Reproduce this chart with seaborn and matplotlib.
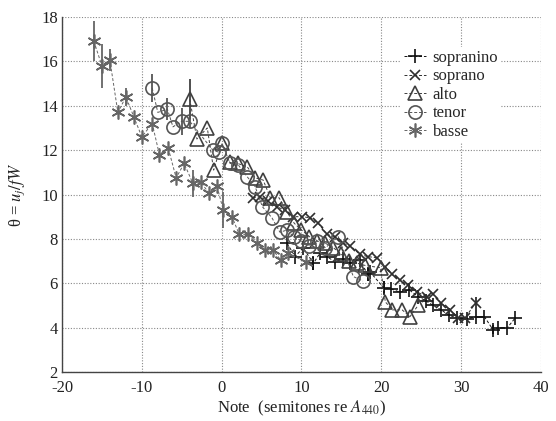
import matplotlib
matplotlib.use("Agg")
import matplotlib.pyplot as plt
import seaborn as sns
import pandas as pd

# values
sopranino_x = [8.2, 9.2, 10.2, 11.5, 12.3, 13.2, 14.2, 15.2, 16.1, 17.3, 18.3, 18.6, 20.3, 21.2,
               22.3, 23.5, 24.6, 25.6, 26.5, 27.5, 28.5, 29.5, 30.7, 31.9, 32.9, 34.0, 34.6, 35.8, 36.8]
sopranino_y = [7.8, 7.2, 7.6, 6.9, 7.35, 7.2, 6.96, 7.1, 6.9, 7.05, 6.4, 6.5, 5.8, 5.75,
               5.6, 5.7, 5.4, 5.2, 5.0, 4.8, 4.55, 4.45, 4.4, 4.5, 4.5, 3.9, 4.0, 4.0, 4.45]
sopranino_err = [0, 0, 0, 0.3, 0, 0, 0, 0, 0, 0, 0.3, 0, 0.3, 0,
                 0, 0, 0, 0, 0, 0, 0, 0, 0, 0, 0, 0.2, 0, 0, 0]

soprano_x = [3.9, 4.8, 5.8, 6.9, 7.9, 8.9, 10.1, 11.1, 12.1, 13.2, 14.2, 15.2, 16.1, 17.3,
             18.3, 19.5, 20.5, 21.3, 22.3, 23.4, 24.5, 25.7, 26.5, 27.5, 28.6, 29.6, 30.5, 31.8]
soprano_y = [9.85, 9.9, 9.7, 9.45, 9.3, 9.0, 9.0, 8.95, 8.7, 8.2, 8.1, 7.8, 7.7, 7.3,
             7.2, 7.15, 6.75, 6.4, 6.15, 5.9, 5.6, 5.4, 5.5, 5.1, 4.8, 4.45, 4.45, 5.1]
soprano_err = [0] * 27 + [0.3]

alto_x = [-4.0, -3.1, -1.8, -1.0, 0.0, 1.0, 2.0, 3.2, 4.2, 5.2, 6.1, 7.2, 8.2, 9.1, 10, 11,
          12, 13, 14, 15, 16, 17, 18, 19.9, 20.5, 21.4, 22.6, 23.6, 24.6]
alto_y = [14.3, 12.5, 13.0, 11.1, 12.3, 11.45, 11.4, 11.25, 10.75, 10.65, 9.85, 9.85, 9.2, 8.7,
          8.4, 8.1, 7.9, 7.8, 7.6, 7.3, 7.0, 6.9, 6.8, 6.7, 5.16, 4.8, 4.8, 4.5, 5.0]
alto_err = [0.9, 0, 0, 0, 0, 0, 0, 0, 0, 0, 0, 0, 0, 0, 0, 0,
            0, 0, 0, 0, 0, 0, 0, 0, 0, 0, 0, 0, 0]

tenor_x = [-8.7, -8.0, -6.8, -6.1, -5.0, -4.0, -1.1, -0.3, 0.05, 1.05, 2.05, 3.2, 4.2, 5.1, 6.3,
           7.3, 8.2, 9.0, 10.0, 11.0, 12.0, 13.0, 14.6, 16.5, 17.7]
tenor_y = [14.8, 13.7, 13.85, 13.05, 13.3, 13.3, 12.0, 11.9, 12.3, 11.4, 11.35, 10.8, 10.35, 9.45,
           8.95, 8.3, 8.4, 8.1, 7.9, 7.7, 7.9, 7.6, 8.1, 6.3, 6.1]
tenor_err = [0.65, 0, 0.5, 0, 0.6, 0.3, 0, 0, 0, 0, 0, 0, 0, 0,
             0, 0, 0, 0, 0, 0, 0, 0, 0, 0, 0]

basse_x = [-16, -15, -14, -13, -12, -11, -10, -8.7, -7.8, -6.7, -5.7, -4.7, -3.6, -2.6, -1.6,
           -0.6, 0.2, 1.3, 2.2, 3.3, 4.4, 5.4, 6.4, 7.4, 8.3, 10.6]
basse_y = [16.9, 15.8, 16.05, 13.7, 14.4, 13.5, 12.6, 13.2, 11.8, 12.1, 10.75, 11.4, 10.5, 10.55,
           10.07, 10.4, 9.3, 9.0, 8.2, 8.2, 7.8, 7.5, 7.5, 7.05, 7.35, 6.95]
basse_err = [0.9, 1.0, 0.5, 0, 0.4, 0, 0, 0, 0, 0, 0, 0, 0.6, 0, 0,
             0, 0.8, 0, 0, 0, 0, 0, 0, 0, 0, 0]

series = [
    ("sopranino", sopranino_x, sopranino_y, sopranino_err, "+", "#111111", 10),
    ("soprano", soprano_x, soprano_y, soprano_err, "x", "#2e2e2e", 6.5),
    ("alto", alto_x, alto_y, alto_err, "^", "#404040", 9.5),
    ("tenor", tenor_x, tenor_y, tenor_err, "o", "#555555", 9.5),
    ("basse", basse_x, basse_y, basse_err, (6, 2, 0), "#666666", 10),
]

sns.set_style("whitegrid")
plt.rcParams["font.family"] = ["Liberation Serif", "DejaVu Serif"]
plt.rcParams["mathtext.fontset"] = "stix"
plt.rcParams["axes.unicode_minus"] = False

fig = plt.figure(figsize=(5.56, 4.21), dpi=100)
ax = fig.add_axes([0.1115, 0.1164, 0.8615, 0.8432])

for name, xs, ys, errs, mk, col, ms in series:
    df = pd.DataFrame({"note": xs, "theta": ys})
    sns.lineplot(data=df, x="note", y="theta", ax=ax, sort=False, estimator=None,
                 color=col, marker=mk, markersize=ms, markerfacecolor="none",
                 markeredgecolor=col, markeredgewidth=1.2, linestyle=(0, (3, 2)),
                 linewidth=0.7, label=name)
    ax.errorbar(xs, ys, yerr=errs, fmt="none", ecolor=col, elinewidth=1.3, capsize=0)

ax.set_xlim(-20, 40)
ax.set_ylim(2, 18)
ax.set_xticks(range(-20, 41, 10))
ax.set_yticks(range(2, 19, 2))
ax.grid(True, color="#888888", linestyle=(0, (1, 1.5)), linewidth=0.8)
for s in ["top", "right"]:
    ax.spines[s].set_visible(False)
for s in ["left", "bottom"]:
    ax.spines[s].set_color("#444444")
    ax.spines[s].set_linewidth(1.0)
ax.tick_params(direction="in", length=3, labelsize=12, colors="#222222", pad=3)
ax.tick_params(axis="x", pad=6)

ax.set_xlabel(r"Note  (semitones re $A_{440}$)", fontsize=12, color="#222222", labelpad=2)
ax.set_ylabel(r"θ = $u_j/fW$", fontsize=12, color="#222222", labelpad=10)

leg = ax.legend(loc="upper left", bbox_to_anchor=(0.69, 0.94), frameon=True,
                fontsize=12, handlelength=1.3, handletextpad=0.4, labelspacing=0.15,
                borderpad=0.2)
leg.get_frame().set_facecolor("white")
leg.get_frame().set_edgecolor("none")
leg.get_frame().set_alpha(1)

fig.savefig("out.png", dpi=100)
